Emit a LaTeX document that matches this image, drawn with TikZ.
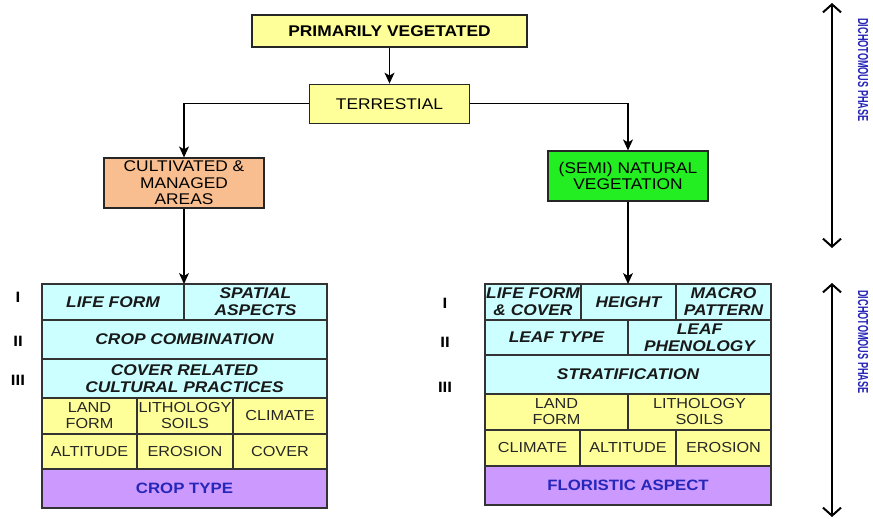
\documentclass[tikz,border=0pt]{standalone}
\usepackage{fontspec}
\setmainfont{Liberation Sans}[FakeStretch=1.12]
\newfontfamily\phasefont{Liberation Sans}[FakeStretch=0.63]
\usetikzlibrary{arrows.meta, positioning}
\definecolor{vegyellow}{HTML}{FFFF99}
\definecolor{cultorange}{HTML}{F9BE8F}
\definecolor{natgreen}{HTML}{22EE22}
\definecolor{levelcyan}{HTML}{CCFFFF}
\definecolor{envyellow}{HTML}{FFFF99}
\definecolor{typepurple}{HTML}{CC99FF}
\definecolor{phaseblue}{HTML}{2626B8}

\begin{document}
\begin{tikzpicture}[
  x=1pt, y=-1pt,
  box/.style={draw=black!85, line width=1.2pt, inner sep=0pt, align=center,
    font=\fontsize{15.5}{16.5}\selectfont},
  topbox/.style={box, fill=vegyellow},
  cell/.style={draw=black!80, line width=1.1pt, inner sep=0pt, outer sep=0pt,
    anchor=north west, align=center},
  levelcell/.style={cell, fill=levelcyan, text=black!90,
    font=\fontsize{15.5}{17}\selectfont\bfseries\itshape},
  envcell/.style={cell, fill=envyellow, text=black!85,
    font=\fontsize{14.5}{16}\selectfont},
  typecell/.style={cell, fill=typepurple, text=phaseblue,
    font=\fontsize{15}{17}\selectfont\bfseries},
  arrow/.style={-{Stealth[length=11pt, width=10pt, inset=3pt]}, line width=1.2pt},
  phasearrow/.style={{Straight Barb[length=8pt, width=18pt]}-{Straight Barb[length=8pt, width=18pt]},
    line width=2pt},
  level/.style={font=\fontsize{15}{15}\selectfont\bfseries},
  phase/.style={rotate=-90, text=phaseblue, font=\phasefont\fontsize{14.5}{14.5}\selectfont\bfseries},
]
\fill[white] (0,0) rectangle (873,519);
\useasboundingbox (0,0) rectangle (873,519);

% Top of the tree
\node[topbox, minimum width=275pt, minimum height=32pt,
  font=\fontsize{15.5}{16.5}\selectfont\bfseries] (prim) at (389.5,31) {PRIMARILY VEGETATED};
\node[topbox, minimum width=160pt, minimum height=39pt, below=36pt of prim] (terr) {TERRESTIAL};
\node[box, fill=cultorange, minimum width=160pt, minimum height=50pt] (cult) at (184,183)
  {CULTIVATED \&\\MANAGED\\AREAS};
\node[box, fill=natgreen, minimum width=160pt, minimum height=50pt] (nat) at (628,176)
  {(SEMI) NATURAL\\VEGETATION};

% Cultivated table
\node[levelcell, minimum width=142pt, minimum height=36pt] (lifeL) at (42,284) {LIFE FORM};
\node[levelcell, minimum width=143pt, minimum height=36pt] (spatL) at (lifeL.north east) {SPATIAL\\ASPECTS};
\node[levelcell, minimum width=285pt, minimum height=39pt] (combL) at (lifeL.south west) {CROP COMBINATION};
\node[levelcell, minimum width=285pt, minimum height=39pt] (practL) at (combL.south west)
  {COVER RELATED\\CULTURAL PRACTICES};
\node[envcell, minimum width=95pt, minimum height=36pt] (landL) at (practL.south west) {LAND\\FORM};
\node[envcell, minimum width=96pt, minimum height=36pt] (lithL) at (landL.north east) {LITHOLOGY\\SOILS};
\node[envcell, minimum width=94pt, minimum height=36pt] (climL) at (lithL.north east) {CLIMATE};
\node[envcell, minimum width=95pt, minimum height=35pt] (altL) at (landL.south west) {ALTITUDE};
\node[envcell, minimum width=96pt, minimum height=35pt] (eroL) at (altL.north east) {EROSION};
\node[envcell, minimum width=94pt, minimum height=35pt] (covL) at (eroL.north east) {COVER};
\node[typecell, minimum width=285pt, minimum height=39pt] (cropL) at (altL.south west) {CROP TYPE};

\node[level] (lvlIL) at (18,297) {I};
\node[level] (lvlIIL) at (18,341) {II};
\node[level] (lvlIIIL) at (18,380) {III};

% Natural table
\node[levelcell, minimum width=96pt, minimum height=36pt] (lifeR) at (485,284) {LIFE FORM\\\& COVER};
\node[levelcell, minimum width=95pt, minimum height=36pt] (heightR) at (lifeR.north east) {HEIGHT};
\node[levelcell, minimum width=95pt, minimum height=36pt] (macroR) at (heightR.north east) {MACRO\\PATTERN};
\node[levelcell, minimum width=143pt, minimum height=35pt] (leafR) at (lifeR.south west) {LEAF TYPE};
\node[levelcell, minimum width=143pt, minimum height=35pt] (phenR) at (leafR.north east) {LEAF\\PHENOLOGY};
\node[levelcell, minimum width=286pt, minimum height=39pt] (stratR) at (leafR.south west) {STRATIFICATION};
\node[envcell, minimum width=143pt, minimum height=36pt] (landR) at (stratR.south west) {LAND\\FORM};
\node[envcell, minimum width=143pt, minimum height=36pt] (lithR) at (landR.north east) {LITHOLOGY\\SOILS};
\node[envcell, minimum width=95pt, minimum height=36pt] (climR) at (landR.south west) {CLIMATE};
\node[envcell, minimum width=96pt, minimum height=36pt] (altR) at (climR.north east) {ALTITUDE};
\node[envcell, minimum width=95pt, minimum height=36pt] (eroR) at (altR.north east) {EROSION};
\node[typecell, minimum width=286pt, minimum height=39pt] (florR) at (climR.south west) {FLORISTIC ASPECT};

\node[level] (lvlIR) at (445,303) {I};
\node[level] (lvlIIR) at (445,342) {II};
\node[level] (lvlIIIR) at (445,387) {III};

% Connectors
\draw[arrow] (prim) -- (terr);
\draw[arrow] (terr.west) -| (cult.north);
\draw[arrow] (terr.east) -| (nat.north);
\draw[arrow] (cult.south) -- (cult.south |- lifeL.north);
\draw[arrow] (nat.south) -- (nat.south |- heightR.north);

% Phase markers
\coordinate (phase1top) at (832,3);
\coordinate (phase1bot) at (832,248);
\coordinate (phase2top) at (832,283);
\coordinate (phase2bot) at (832,517);
\draw[phasearrow] (phase1top) -- (phase1bot);
\draw[phasearrow] (phase2top) -- (phase2bot);
\node[phase] (phase1) at (863,70) {DICHOTOMOUS PHASE};
\node[phase] (phase2) at (863,342) {DICHOTOMOUS PHASE};
\end{tikzpicture}
\end{document}
